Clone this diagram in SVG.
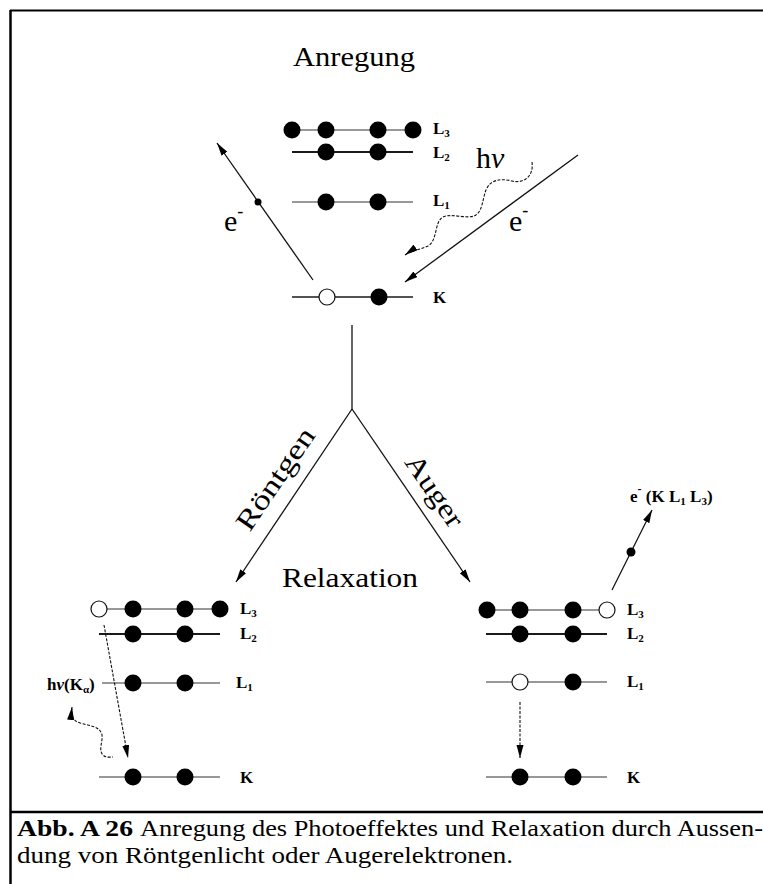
<svg xmlns="http://www.w3.org/2000/svg" width="763" height="884" viewBox="0 0 763 884">
  <defs>
    <style>
      .lvl { stroke: #1a1a1a; fill: none; }
      .thin { stroke-width: 1.1; stroke: #333; }
      .thick { stroke-width: 2; }
      .mid { stroke-width: 1.4; }
      .e { fill: #000; }
      .hole { fill: #fff; stroke: #111; stroke-width: 1.2; }
      .lab { font-family: 'Liberation Serif', 'Times New Roman', Times, serif; font-weight: bold; font-size: 17px; fill: #000; }
      .sub { font-size: 11px; }
      .title { font-family: 'Liberation Serif', 'Times New Roman', Times, serif; font-size: 28px; fill: #000; }
      .sym { font-family: 'Liberation Serif', 'Times New Roman', Times, serif; font-size: 30px; fill: #000; }
      .conn { stroke: #111; stroke-width: 1.3; fill: none; }
      .dash { stroke-dasharray: 3 1.5; stroke-width: 1.1; }
      .cap { font-family: 'Liberation Serif', 'Times New Roman', Times, serif; font-size: 23px; fill: #000; }
    </style>
    <marker id="arrow" markerUnits="userSpaceOnUse" markerWidth="14" markerHeight="8" refX="13" refY="3.5" orient="auto-start-reverse">
      <path d="M0,0 L13,3.5 L0,7 z" fill="#000"/>
    </marker>
  </defs>

  <rect width="763" height="884" fill="#fff"/>

  <!-- frame and caption rule -->
  <g id="frame" stroke="#000" fill="none">
    <line x1="10.5" y1="10" x2="10.5" y2="884" stroke-width="2.5"/>
    <line x1="10" y1="10.5" x2="763" y2="10.5" stroke-width="2"/>
    <line x1="10" y1="812" x2="763" y2="812" stroke-width="2.5"/>
  </g>

  <!-- headings -->
  <text id="t-anregung" class="title" x="293" y="66" textLength="122" lengthAdjust="spacingAndGlyphs">Anregung</text>
  <text id="t-relaxation" class="title" x="282" y="587" textLength="136" lengthAdjust="spacingAndGlyphs">Relaxation</text>

  <!-- excited atom: K hole after photo-ionisation -->
  <g id="state-excited">
    <line class="lvl thin" x1="292" y1="130" x2="413" y2="130"/>
    <circle class="e" cx="292" cy="130" r="8.5"/>
    <circle class="e" cx="326" cy="130" r="8.5"/>
    <circle class="e" cx="378" cy="130" r="8.5"/>
    <circle class="e" cx="413" cy="130" r="8.5"/>
    <line class="lvl thick" x1="292" y1="152" x2="413" y2="152"/>
    <circle class="e" cx="326" cy="152" r="8.5"/>
    <circle class="e" cx="378" cy="152" r="8.5"/>
    <line class="lvl thin" x1="292" y1="202" x2="413" y2="202"/>
    <circle class="e" cx="326" cy="202" r="8.5"/>
    <circle class="e" cx="378" cy="202" r="8.5"/>
    <line class="lvl mid" x1="292" y1="297" x2="413" y2="297"/>
    <circle class="hole" cx="327" cy="297" r="8"/>
    <circle class="e" cx="379" cy="297" r="8.5"/>
    <text class="lab" x="433" y="134">L<tspan class="sub" dy="3">3</tspan></text>
    <text class="lab" x="433" y="158">L<tspan class="sub" dy="3">2</tspan></text>
    <text class="lab" x="433" y="206">L<tspan class="sub" dy="3">1</tspan></text>
    <text class="lab" x="433" y="303">K</text>
    <text class="sym" x="476" y="168">h<tspan font-style="italic">ν</tspan></text>
    <text class="sym" x="224" y="231">e<tspan font-size="18" dy="-14">-</tspan></text>
    <text class="sym" x="509" y="231">e<tspan font-size="18" dy="-15">-</tspan></text>
  </g>

  <!-- relaxation by X-ray emission -->
  <g id="state-xray">
    <line class="lvl thin" x1="99" y1="609" x2="220" y2="609"/>
    <circle class="hole" cx="99" cy="609" r="8"/>
    <circle class="e" cx="133" cy="609" r="8.5"/>
    <circle class="e" cx="185" cy="609" r="8.5"/>
    <circle class="e" cx="220" cy="609" r="8.5"/>
    <line class="lvl thick" x1="99" y1="634" x2="220" y2="634"/>
    <circle class="e" cx="133" cy="634" r="8.5"/>
    <circle class="e" cx="185" cy="634" r="8.5"/>
    <line class="lvl thin" x1="102" y1="683" x2="220" y2="683"/>
    <circle class="e" cx="133" cy="683" r="8.5"/>
    <circle class="e" cx="185" cy="683" r="8.5"/>
    <line class="lvl thin" x1="99" y1="777" x2="220" y2="777"/>
    <circle class="e" cx="133" cy="777" r="8.5"/>
    <circle class="e" cx="185" cy="777" r="8.5"/>
    <text class="lab" x="240" y="614">L<tspan class="sub" dy="3">3</tspan></text>
    <text class="lab" x="240" y="639">L<tspan class="sub" dy="3">2</tspan></text>
    <text class="lab" x="236" y="688">L<tspan class="sub" dy="3">1</tspan></text>
    <text class="lab" x="240" y="783">K</text>
    <text class="lab" x="47" y="690" font-size="18">h<tspan font-style="italic">ν</tspan>(K<tspan class="sub" dy="3">α</tspan><tspan dy="-3">)</tspan></text>
  </g>

  <!-- relaxation by Auger emission -->
  <g id="state-auger">
    <line class="lvl thin" x1="487" y1="610" x2="607" y2="610"/>
    <circle class="e" cx="487" cy="610" r="8.5"/>
    <circle class="e" cx="520" cy="610" r="8.5"/>
    <circle class="e" cx="573" cy="610" r="8.5"/>
    <circle class="hole" cx="607" cy="610" r="8"/>
    <line class="lvl thick" x1="486" y1="634" x2="607" y2="634"/>
    <circle class="e" cx="520" cy="634" r="8.5"/>
    <circle class="e" cx="573" cy="634" r="8.5"/>
    <line class="lvl thin" x1="486" y1="682" x2="607" y2="682"/>
    <circle class="hole" cx="520" cy="682" r="8"/>
    <circle class="e" cx="573" cy="682" r="8.5"/>
    <line class="lvl thin" x1="486" y1="777" x2="607" y2="777"/>
    <circle class="e" cx="520" cy="777" r="8.5"/>
    <circle class="e" cx="573" cy="777" r="8.5"/>
    <text class="lab" x="627" y="615">L<tspan class="sub" dy="3">3</tspan></text>
    <text class="lab" x="627" y="639">L<tspan class="sub" dy="3">2</tspan></text>
    <text class="lab" x="627" y="687">L<tspan class="sub" dy="3">1</tspan></text>
    <text class="lab" x="627" y="783">K</text>
    <text class="lab" x="630" y="502" font-size="19">e<tspan font-size="12" dy="-9">-</tspan><tspan dy="9"> (K L</tspan><tspan class="sub" dy="3">1</tspan><tspan dy="-3"> L</tspan><tspan class="sub" dy="3">3</tspan><tspan dy="-3">)</tspan></text>
  </g>

  <!-- transitions, electrons and photons -->
  <g id="connectors">
    <line class="conn" x1="352" y1="325" x2="352" y2="409"/>
    <line class="conn" x1="352" y1="409" x2="236" y2="582" marker-end="url(#arrow)"/>
    <line class="conn" x1="352" y1="409" x2="470" y2="582" marker-end="url(#arrow)"/>
    <line class="conn" x1="313" y1="280" x2="217" y2="143" marker-end="url(#arrow)"/>
    <circle cx="258" cy="202" r="3.5" fill="#000"/>
    <line class="conn" x1="578" y1="155" x2="405" y2="282" marker-end="url(#arrow)"/>
    <path class="conn dash" d="M532,162 C534,176 524,184 512,181 C500,178 490,180 486,190 C482,200 483,212 474,216 C466,219 452,213 443,217 C434,222 438,240 428,246 C420,250 412,250 405,255" marker-end="url(#arrow)"/>
    <line class="conn dash" x1="104" y1="625" x2="128" y2="758" marker-end="url(#arrow)"/>
    <path class="conn dash" d="M72,707 C71,716 73,721 80,723 C90,726 100,726 102,735 C103,742 98,750 103,755 C106,758 110,757 113,757" marker-start="url(#arrow)"/>
    <line class="conn dash" x1="520" y1="702" x2="520" y2="758" marker-end="url(#arrow)"/>
    <line class="conn" x1="612" y1="590" x2="652" y2="510" marker-end="url(#arrow)"/>
    <circle cx="631" cy="552" r="4.5" fill="#000"/>
  </g>

  <!-- branch labels -->
  <text id="t-roentgen" class="title" x="283" y="484" text-anchor="middle" textLength="118" lengthAdjust="spacingAndGlyphs" transform="rotate(-55.6 283 484)">Röntgen</text>
  <text id="t-auger" class="title" x="427" y="496" text-anchor="middle" textLength="82" lengthAdjust="spacingAndGlyphs" transform="rotate(55.6 427 496)">Auger</text>

  <!-- caption -->
  <g id="caption">
    <text class="cap" x="17" y="836" font-weight="bold" textLength="116" lengthAdjust="spacingAndGlyphs">Abb. A 26</text>
    <text class="cap" x="140" y="836" textLength="623" lengthAdjust="spacingAndGlyphs">Anregung des Photoeffektes und Relaxation durch Aussen-</text>
    <text class="cap" x="17" y="863" textLength="496" lengthAdjust="spacingAndGlyphs">dung von Röntgenlicht oder Augerelektronen.</text>
  </g>
</svg>
